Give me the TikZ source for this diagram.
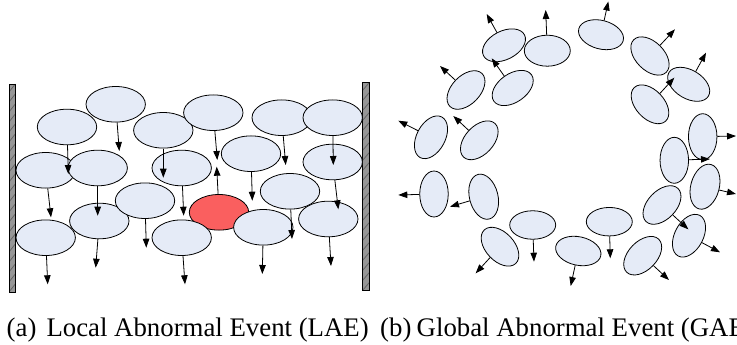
\documentclass[tikz,border=0pt]{standalone}
\usepackage{fontspec}
\setmainfont{Liberation Serif}
\usetikzlibrary{shapes.geometric,arrows.meta}
\definecolor{blobfill}{RGB}{229,235,247}
\definecolor{redfill}{RGB}{250,95,95}
\definecolor{wallfill}{RGB}{150,150,150}
\definecolor{wallhatch}{RGB}{100,100,100}
\tikzset{
  blob/.style={ellipse, draw=black, line width=0.8pt, fill=blobfill, inner sep=0pt,
               minimum width=59.4pt, minimum height=35.6pt},
  sblob/.style={blob, minimum width=46pt, minimum height=28.5pt},
  redblob/.style={blob, fill=redfill},
  mv/.style={line width=0.8pt, -{Triangle[length=9pt,width=6.5pt]}},
  wallbox/.style={draw=black, line width=0.8pt},
  hatch/.style={draw=wallhatch, line width=0.8pt},
  captext/.style={font=\fontsize{26.8}{30}\selectfont, inner sep=0pt, anchor=base west}
}
\begin{document}
\begin{tikzpicture}[x=1pt,y=-1pt]
\useasboundingbox (0,0) rectangle (737,345);
\clip (0,0) rectangle (737,345);

% ---------- walls ----------
\fill[wallfill] (9,84) rectangle (15.3,292);
\begin{scope}
  \clip (9,84) rectangle (15.3,292);
  \foreach \k in {0,...,22} \draw[hatch] (9,92+10*\k) -- (15.3,84+10*\k);
\end{scope}
\draw[wallbox] (9,84) rectangle (15.3,292);

\fill[wallfill] (362.7,82.3) rectangle (369.5,290.7);
\begin{scope}
  \clip (362.7,82.3) rectangle (369.5,290.7);
  \foreach \k in {0,...,22} \draw[hatch] (362.7,90.3+10*\k) -- (369.5,82.3+10*\k);
\end{scope}
\draw[wallbox] (362.7,82.3) rectangle (369.5,290.7);

% ---------- (a) local ----------
\node[blob] (L1) at (115.7,104.3) {};
\node[blob] (L2) at (67.0,127.0) {};
\node[blob] (L3) at (163.3,130.3) {};
\node[blob] (L4) at (213.3,112.7) {};
\node[blob] (L5) at (281.7,117.7) {};
\node[blob] (L6) at (332.7,117.7) {};
\node[blob] (L7) at (45.7,170.3) {};
\node[blob] (L8) at (97.7,168.0) {};
\node[blob] (L9) at (181.7,168.0) {};
\node[blob] (L10) at (251.0,153.7) {};
\node[blob] (L11) at (332.7,162.0) {};
\node[blob] (L13) at (290.0,191.3) {};
\node[blob] (L15) at (99.3,221.0) {};
\node[blob] (L16) at (45.7,237.7) {};
\node[blob] (L12) at (145.0,200.7) {};
\node[redblob] (LR) at (219.0,212.3) {};
\node[blob] (L17) at (181.7,237.7) {};
\node[blob] (L18) at (263.3,227.3) {};
\node[blob] (L19) at (328.3,219.0) {};

\coordinate (a1) at (119.3,151.0);
\coordinate (a2) at (68.3,174.0);
\coordinate (a3) at (163.3,177.7);
\coordinate (a4) at (217.3,160.0);
\coordinate (a5) at (285.7,165.0);
\coordinate (a6) at (333.3,165.0);
\coordinate (a7) at (51.0,217.3);
\coordinate (a8) at (97.7,215.7);
\coordinate (a9) at (183.7,215.7);
\coordinate (a10) at (252.3,200.7);
\coordinate (a11) at (338.3,209.3);
\coordinate (a12) at (146.3,247.7);
\coordinate (a13) at (292.0,239.0);
\coordinate (aR) at (216.7,166.7);
\coordinate (a15) at (95.7,267.7);
\coordinate (a16) at (47.7,284.3);
\coordinate (a17) at (185.0,284.3);
\coordinate (a18) at (262.3,274.0);
\coordinate (a19) at (331.0,266.0);

\foreach \n in {1,...,13,15,16,17,18,19} \draw[mv] (L\n) -- (a\n);
\draw[mv] (LR) -- (aR);

% ---------- (b) global ----------
\node[sblob, rotate=27] (R1) at (504.0,45.3) {};
\node[sblob, minimum height=31pt] (R2) at (547.3,50.7) {};
\node[sblob, rotate=-15] (R3) at (601.0,34.7) {};
\node[sblob, rotate=-45] (R4) at (650.0,56.0) {};
\node[sblob, rotate=-31] (R5) at (688.7,84.3) {};
\node[sblob, rotate=-47] (R6) at (650.0,104.3) {};
\node[sblob, rotate=35] (R7) at (512.7,88.0) {};
\node[sblob, rotate=46] (R8) at (466.0,90.0) {};
\node[sblob, rotate=62] (R9) at (431.0,137.3) {};
\node[sblob, rotate=47] (R10) at (479.3,140.3) {};
\node[sblob, rotate=90] (R11) at (702.7,136.7) {};
\node[sblob, rotate=90] (R12) at (674.3,160.3) {};
\node[sblob, rotate=75] (R13) at (705.0,186.7) {};
\node[sblob, rotate=90] (R14) at (434.0,194.0) {};
\node[sblob, rotate=104] (R15) at (483.7,196.7) {};
\node[sblob, rotate=46] (R16) at (662.0,205.0) {};
\node[sblob] (R17) at (532.7,225.0) {};
\node[sblob] (R18) at (609.3,221.7) {};
\node[sblob, rotate=-47] (R19) at (500.0,246.7) {};
\node[sblob, rotate=-12] (R20) at (578.3,251.0) {};
\node[sblob, rotate=46] (R21) at (642.7,255.7) {};
\node[sblob, rotate=62] (R22) at (689.0,235.7) {};

\coordinate (b1) at (486.7,14.0);
\coordinate (b2) at (545.7,10.0);
\coordinate (b3) at (608.3,1.5);
\coordinate (b4) at (675.0,29.3);
\coordinate (b5) at (706.0,52.7);
\coordinate (b6) at (674.3,77.7);
\coordinate (b7) at (491.7,58.3);
\coordinate (b8) at (440.0,66.0);
\coordinate (b9) at (398.3,120.7);
\coordinate (b10) at (453.3,116.0);
\coordinate (b11) at (736.0,136.0);
\coordinate (b12) at (710.0,159.0);
\coordinate (b13) at (736.0,194.0);
\coordinate (b14) at (398.3,195.0);
\coordinate (b15) at (450.0,206.7);
\coordinate (b16) at (688.3,229.3);
\coordinate (b17) at (534.0,261.7);
\coordinate (b18) at (610.3,258.3);
\coordinate (b19) at (475.7,273.3);
\coordinate (b20) at (570.7,286.0);
\coordinate (b21) at (669.0,280.0);
\coordinate (b22) at (720.0,252.3);

\foreach \n in {1,...,22} \draw[mv] (R\n) -- (b\n);

% ---------- captions ----------
\node[captext] (capa) at (6.5,336) {(a)};
\node[captext] (capatext) at (46.3,336) {Local Abnormal Event (LAE)};
\node[captext] (capb) at (380,336) {(b)};
\node[captext] (capbtext) at (416.5,336) {Global Abnormal Event (GAE)};
\end{tikzpicture}
\end{document}
